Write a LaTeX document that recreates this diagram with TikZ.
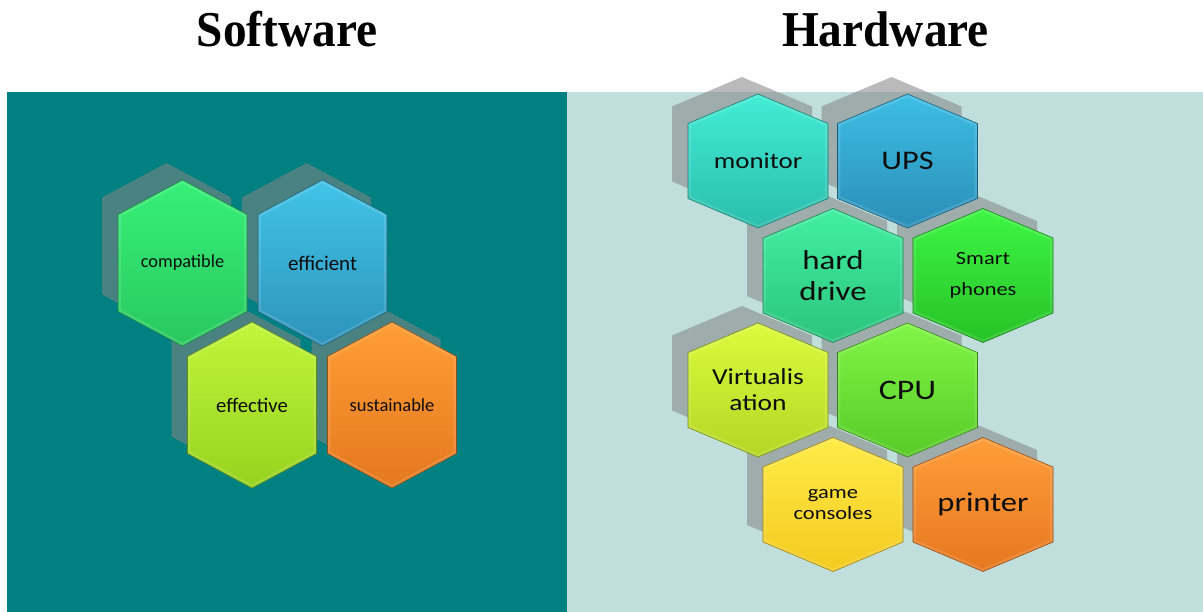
\documentclass[tikz,border=0pt]{standalone}
\usepackage{fontspec}
\setmainfont{Liberation Serif}
\newfontfamily\calfont{Carlito}
\definecolor{teal0}{HTML}{008080}
\definecolor{lightpanel}{HTML}{BFDEDC}
\definecolor{shadowc}{HTML}{858585}
\definecolor{txt}{HTML}{0E0E0E}
% left
\definecolor{compT}{HTML}{36F078}\definecolor{compB}{HTML}{29C85F}
\definecolor{effiT}{HTML}{42C4E8}\definecolor{effiB}{HTML}{2D93BB}
\definecolor{efftT}{HTML}{C0F63A}\definecolor{efftB}{HTML}{97D21F}
\definecolor{sustT}{HTML}{FF9E36}\definecolor{sustB}{HTML}{E4781E}
% right
\definecolor{moniT}{HTML}{42EDD6}\definecolor{moniB}{HTML}{2ABDAC}
\definecolor{upsT}{HTML}{3DBEE4}\definecolor{upsB}{HTML}{2A8EB8}
\definecolor{hardT}{HTML}{42EFA2}\definecolor{hardB}{HTML}{2BC47C}
\definecolor{smarT}{HTML}{3EF644}\definecolor{smarB}{HTML}{26C226}
\definecolor{virtT}{HTML}{DDFB3D}\definecolor{virtB}{HTML}{B4D625}
\definecolor{cpuT}{HTML}{82F647}\definecolor{cpuB}{HTML}{57CA27}
\definecolor{gameT}{HTML}{FFEB47}\definecolor{gameB}{HTML}{F4CA1F}
\definecolor{prinT}{HTML}{FF9E3B}\definecolor{prinB}{HTML}{E6771E}
% hexagon path: cx, cy, half width, half height, half side
\newcommand\hexat[5]{(#1,#2-#4) -- (#1+#3,#2-#5) -- (#1+#3,#2+#5) -- (#1,#2+#4) -- (#1-#3,#2+#5) -- (#1-#3,#2-#5) -- cycle}
\newcommand\hexcell[6]{%
  \shade[top color=#6T, bottom color=#6B] \hexat{#1}{#2}{#3}{#4}{#5};
  \begin{scope}
    \clip \hexat{#1}{#2}{#3}{#4}{#5};
    \draw[white, opacity=0.12, line width=6] \hexat{#1}{#2}{#3}{#4}{#5};
  \end{scope}
  \draw[#6B!65!black, line width=0.6] \hexat{#1}{#2}{#3}{#4}{#5};
}
\tikzset{
  title/.style={font=\bfseries\fontsize{47.5}{50}\selectfont, anchor=base, inner sep=0pt, yscale=1.06, transform shape},
  llbl/.style={text=txt, inner sep=0pt, align=center},
  rlbl/.style={text=txt, inner sep=0pt, align=center, xscale=1.2, transform shape},
  shadowfill/.style={fill=shadowc, fill opacity=0.56}
}
\begin{document}
\begin{tikzpicture}[x=1bp, y=-1bp]
\useasboundingbox (0,0) rectangle (1203,612);
\fill[white] (0,0) rectangle (1203,612);
% panels
\fill[teal0] (7,92) rectangle (567,612);
\fill[lightpanel] (567,92) rectangle (1203,612);
% titles
\node[title] (software) at (287,47) {Software};
\node[title] (hardware) at (885.5,47) {Hardware};
% shadows
\foreach \cx/\cy in {182.5/263, 322.5/263, 252/405, 392/405}
  \fill[shadowfill] \hexat{\cx-16}{\cy-17}{64.5}{83}{48.5};
\foreach \cx/\cy in {758/161, 907.5/161, 833/275.5, 983/275.5, 758/390, 907.5/390, 833/504.5, 983/504.5}
  \fill[shadowfill] \hexat{\cx-16}{\cy-17}{70}{67}{37.5};
% left hexagons
\hexcell{182.5}{263}{64.5}{83}{48.5}{comp}
\hexcell{322.5}{263}{64.5}{83}{48.5}{effi}
\hexcell{252}{405}{64.5}{83}{48.5}{efft}
\hexcell{392}{405}{64.5}{83}{48.5}{sust}
% right hexagons
\hexcell{758}{161}{70}{67}{37.5}{moni}
\hexcell{907.5}{161}{70}{67}{37.5}{ups}
\hexcell{833}{275.5}{70}{67}{37.5}{hard}
\hexcell{983}{275.5}{70}{67}{37.5}{smar}
\hexcell{758}{390}{70}{67}{37.5}{virt}
\hexcell{907.5}{390}{70}{67}{37.5}{cpu}
\hexcell{833}{504.5}{70}{67}{37.5}{game}
\hexcell{983}{504.5}{70}{67}{37.5}{prin}
% left labels
\node[llbl, font=\calfont\fontsize{18.4}{20}\selectfont] (compatible) at (182.5,263) {compatible};
\node[llbl, font=\calfont\fontsize{21}{23}\selectfont] (efficient) at (322.5,263) {efficient};
\node[llbl, font=\calfont\fontsize{20.8}{23}\selectfont] (effective) at (252,405) {effective};
\node[llbl, font=\calfont\fontsize{18.6}{20}\selectfont] (sustainable) at (392,405) {sustainable};
% right labels
\node[rlbl, font=\calfont\fontsize{22.5}{24}\selectfont] (monitor) at (758,161) {monitor};
\node[rlbl, font=\calfont\fontsize{27}{29}\selectfont] (ups) at (907.5,161) {UPS};
\node[rlbl, font=\calfont\fontsize{27.5}{30.5}\selectfont] (harddrive) at (833,275.5) {hard\\drive};
\node[rlbl, font=\calfont\fontsize{18.7}{32}\selectfont] (smartphones) at (983,275.5) {Smart\\phones};
\node[rlbl, font=\calfont\fontsize{23}{26}\selectfont] (virtualisation) at (758,390) {Virtualis\\ation};
\node[rlbl, font=\calfont\fontsize{28.4}{30}\selectfont] (cpu) at (907.5,390) {CPU};
\node[rlbl, font=\calfont\fontsize{18.8}{22}\selectfont] (gameconsoles) at (833,504.5) {game\\consoles};
\node[rlbl, font=\calfont\fontsize{27.3}{29}\selectfont] (printer) at (983,504.5) {printer};
\end{tikzpicture}
\end{document}
